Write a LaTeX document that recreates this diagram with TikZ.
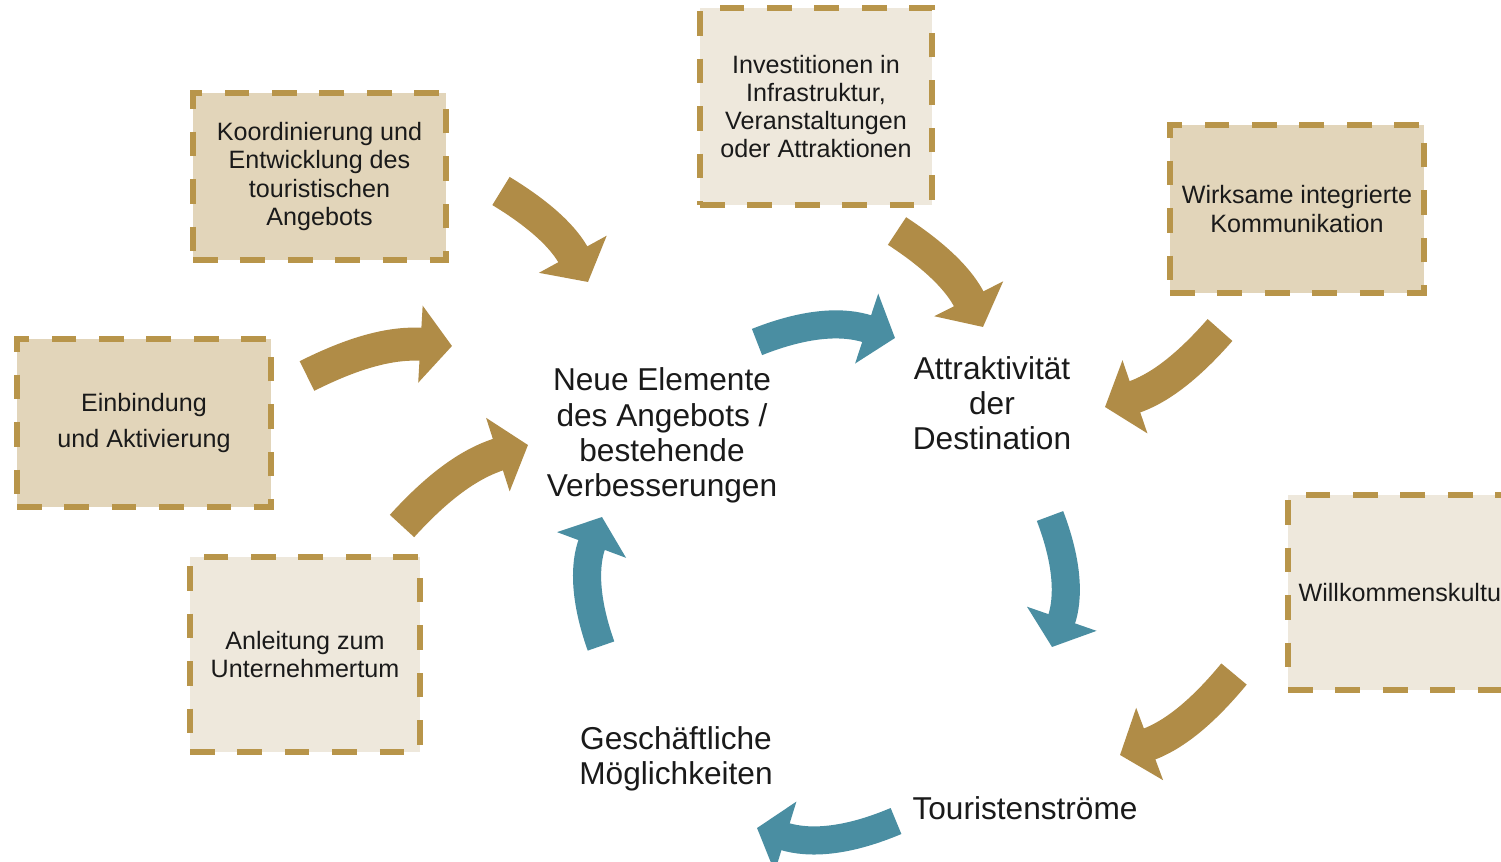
\documentclass[tikz,border=0pt]{standalone}
\usepackage{fontspec}
\setmainfont{Liberation Sans}
\usetikzlibrary{arrows.meta}
\definecolor{goldline}{HTML}{B8954A}
\definecolor{goldarrow}{HTML}{B08C47}
\definecolor{sanddark}{HTML}{E2D5BA}
\definecolor{sandlight}{HTML}{EEE8DC}
\definecolor{petrol}{HTML}{4A8EA2}
\definecolor{inktext}{HTML}{1A1A1A}

\begin{document}
\begin{tikzpicture}[x=0.02cm, y=-0.02cm,
  dashbox/.style={draw=goldline, line width=3.4pt, dash pattern=on 14pt off 13pt, text=inktext, align=center, font=\fontsize{14.3}{16}\selectfont, inner sep=2pt},
  bigtext/.style={text=inktext, align=center, font=\fontsize{18}{20}\selectfont},
  goldflow/.style={color=goldarrow, line width=18.8pt, -{Triangle[width=43pt,length=18pt]}},
  blueflow/.style={color=petrol, line width=16pt, -{Triangle[width=41pt,length=17pt]}}]
  \fill[white] (0,0) rectangle (1501,862);
  \useasboundingbox (0,0) rectangle (1501,862);

  \node[dashbox, fill=sanddark, minimum width=5.06cm, minimum height=3.34cm] (koord) at (319.5,176.5) {Koordinierung und\\Entwicklung des\\touristischen\\Angebots};
  \node[dashbox, fill=sandlight, minimum width=4.64cm, minimum height=3.94cm] (invest) at (816,106.5) {Investitionen in\\Infrastruktur,\\Veranstaltungen\\oder Attraktionen};
  \node[dashbox, fill=sanddark, minimum width=5.08cm, minimum height=3.36cm] (wirk) at (1297,209) {Wirksame integrierte\\Kommunikation};
  \node[dashbox, fill=sanddark, minimum width=5.08cm, minimum height=3.36cm] (einb) at (144,423) {Einbindung\\[5pt]und Aktivierung};
  \node[dashbox, fill=sandlight, minimum width=4.6cm, minimum height=3.9cm] (anleit) at (305,654.5) {Anleitung zum\\Unternehmertum};
  \node[dashbox, fill=sandlight, minimum width=4.64cm, minimum height=3.9cm] (willk) at (1404,592.5) {Willkommenskultur};

  \node[bigtext] (neue) at (662,435.5) {Neue Elemente\\des Angebots /\\bestehende\\Verbesserungen};
  \node[bigtext] (attr) at (992,403) {Attraktivität\\der\\Destination};
  \node[bigtext] (gesch) at (676,758.5) {Geschäftliche\\Möglichkeiten};
  \node[bigtext] (tour) at (1025,808) {Touristenströme};

  \coordinate (koord-out) at (501,191);
  \coordinate (koord-in) at (588,282);
  \coordinate (einb-out) at (307,376);
  \coordinate (einb-in) at (452,346);
  \coordinate (anleit-out) at (402,526);
  \coordinate (anleit-in) at (528,445);
  \coordinate (invest-out) at (897,231);
  \coordinate (invest-in) at (983,327);
  \coordinate (wirk-out) at (1220,330);
  \coordinate (wirk-in) at (1105,407);
  \coordinate (willk-out) at (1234,674);
  \coordinate (willk-in) at (1120,755);
  \draw[goldflow] (koord-out) to[bend left=15] (koord-in);
  \draw[goldflow] (einb-out) to[bend left=15] (einb-in);
  \draw[goldflow] (anleit-out) to[bend left=15] (anleit-in);
  \draw[goldflow] (invest-out) to[bend left=15] (invest-in);
  \draw[goldflow] (wirk-out) to[bend left=15] (wirk-in);
  \draw[goldflow] (willk-out) to[bend left=15] (willk-in);

  \coordinate (neue-out) at (757,342);
  \coordinate (attr-in) at (895,338);
  \coordinate (attr-out) at (1050,516);
  \coordinate (tour-in) at (1052,647);
  \coordinate (tour-out) at (896,821);
  \coordinate (gesch-in) at (757,828);
  \coordinate (gesch-out) at (601,646);
  \coordinate (neue-in) at (602,517);
  \draw[blueflow] (neue-out) to[bend left=20] (attr-in);
  \draw[blueflow] (attr-out) to[bend left=20] (tour-in);
  \draw[blueflow] (tour-out) to[bend left=20] (gesch-in);
  \draw[blueflow] (gesch-out) to[bend left=20] (neue-in);
\end{tikzpicture}
\end{document}
